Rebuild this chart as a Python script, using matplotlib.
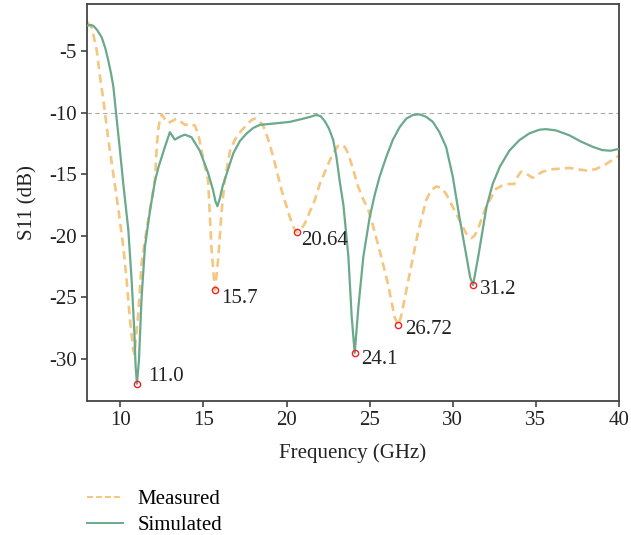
import numpy as np
import matplotlib
matplotlib.use('Agg')
import matplotlib.pyplot as plt

# simulated S11 (GHz, dB)
sim_freq = [8.0, 8.25, 8.4, 8.6, 8.88, 9.1, 9.28, 9.45, 9.58, 9.74, 9.98, 10.18, 10.48,
            10.68, 10.84, 10.92, 11.0, 11.12, 11.28, 11.48, 11.78, 12.08, 12.28, 12.68,
            12.98, 13.28, 13.6, 13.88, 14.28, 14.78, 15.28, 15.58, 15.72, 15.84, 15.98,
            16.15, 16.4, 16.8, 17.2, 17.6, 18.0, 18.4, 19.2, 20.2, 21.0, 21.4, 21.8,
            22.05, 22.3, 22.55, 22.8, 23.0, 23.2, 23.42, 23.72, 23.92, 24.1, 24.32, 24.62,
            25.0, 25.3, 25.6, 26.0, 26.4, 26.8, 27.2, 27.6, 28.0, 28.4, 28.8, 29.2, 29.6,
            30.0, 30.4, 30.8, 31.05, 31.22, 31.53, 32.03, 32.4, 32.83, 33.4, 34.0, 34.6,
            35.2, 35.6, 36.2, 37.0, 37.7, 38.45, 39.0, 39.5, 40.0]
sim_s11 = [-2.95, -2.9, -3.0, -3.3, -3.9, -4.8, -5.8, -6.9, -7.9, -10.0, -13.1, -15.8,
           -19.5, -23.6, -27.7, -30.6, -32.0, -30.1, -25.0, -20.9, -18.0, -15.6, -14.5,
           -12.8, -11.6, -12.2, -11.95, -11.8, -12.0, -13.1, -14.9, -16.3, -17.2, -17.6,
           -17.0, -16.0, -14.95, -13.3, -12.3, -11.7, -11.25, -11.0, -10.9, -10.76, -10.5,
           -10.36, -10.2, -10.3, -10.7, -11.3, -12.2, -13.6, -15.6, -17.5, -21.7, -26.6,
           -29.5, -25.8, -21.7, -18.5, -16.7, -15.2, -13.6, -12.2, -11.2, -10.5, -10.2,
           -10.15, -10.35, -10.76, -11.6, -12.8, -15.2, -18.5, -21.5, -23.4, -24.0, -21.7,
           -17.65, -15.8, -14.4, -13.1, -12.25, -11.7, -11.4, -11.35, -11.45, -11.84,
           -12.35, -12.8, -13.05, -13.1, -12.95]

# measured S11 (GHz, dB)
meas_freq = [8.0, 8.28, 8.58, 8.78, 8.98, 9.28, 9.58, 9.88, 10.18, 10.38, 10.58, 10.78,
             10.85, 11.08, 11.28, 11.58, 11.88, 12.08, 12.2, 12.3, 12.4, 12.5, 12.65, 12.88,
             13.1, 13.38, 13.6, 13.88, 14.28, 14.5, 14.7, 14.88, 15.28, 15.38, 15.48, 15.64,
             15.7, 15.9, 16.08, 16.28, 16.6, 16.9, 17.2, 17.6, 17.9, 18.1, 18.35, 18.6, 18.9,
             19.2, 19.7, 20.2, 20.45, 20.64, 20.85, 21.1, 21.7, 22.0, 22.5, 22.8, 23.1, 23.3,
             23.5, 23.7, 24.0, 24.3, 24.6, 24.9, 25.2, 25.6, 26.1, 26.5, 26.72, 26.9, 27.0,
             27.4, 27.9, 28.4, 28.7, 29.0, 29.3, 29.6, 30.2, 30.8, 31.1, 31.3, 31.5, 32.0,
             32.6, 33.0, 33.4, 33.7, 33.9, 34.1, 34.4, 34.8, 35.4, 36.0, 37.0, 38.0, 38.6,
             39.2, 40.0]
meas_s11 = [-2.65, -3.1, -4.95, -7.1, -9.0, -12.2, -15.0, -17.8, -20.9, -23.6, -26.8,
            -29.3, -29.6, -26.3, -22.2, -19.5, -17.1, -15.5, -12.6, -11.2, -10.4, -10.15,
            -10.5, -10.85, -10.7, -10.5, -10.7, -11.0, -10.9, -11.1, -11.8, -13.1, -15.5,
            -18.2, -20.9, -23.6, -24.4, -21.7, -18.2, -15.5, -13.1, -12.2, -11.6, -11.0,
            -10.6, -10.5, -10.65, -11.1, -12.2, -13.6, -16.3, -18.5, -19.4, -19.7, -19.5,
            -19.0, -17.1, -15.8, -14.2, -13.3, -12.7, -12.6, -12.8, -13.3, -14.6, -16.0,
            -17.0, -17.8, -19.2, -21.2, -23.9, -26.6, -27.25, -26.5, -25.8, -23.1, -19.8,
            -17.1, -16.3, -16.0, -16.1, -16.6, -18.2, -19.8, -20.2, -20.0, -19.5, -17.65,
            -16.2, -15.9, -15.8, -15.8, -15.2, -14.8, -14.95, -15.3, -14.8, -14.6, -14.5,
            -14.7, -14.6, -14.2, -13.5]

# resonance markers
res_freq = [11.0, 15.7, 20.64, 24.1, 26.72, 31.2]
res_s11 = [-32.0, -24.4, -19.7, -29.5, -27.25, -24.0]
res_labels = ['11.0', '15.7', '20.64', '24.1', '26.72', '31.2']
label_offsets = [(8, 5), (4.5, -6), (3, -6), (4.5, -4.5), (5, -3), (5, -3.5)]

plt.rcParams['font.family'] = ['Liberation Serif', 'DejaVu Serif']
plt.rcParams['axes.unicode_minus'] = False
FS = 15

fig = plt.figure(figsize=(6.31, 5.35), dpi=100)
ax = fig.add_axes([0.138, 0.2505, 0.843, 0.742])

ax.axhline(-10, color='#aaaaaa', lw=0.8, ls=(0, (4, 3)), zorder=1)
ax.plot(meas_freq, meas_s11, color='#f4c67f', lw=1.9, ls=(0, (3.2, 2.0)), label='Measured',
        zorder=2, solid_joinstyle='round', dash_joinstyle='round')
ax.plot(sim_freq, sim_s11, color='#6aa98c', lw=1.6, label='Simulated', zorder=3,
        solid_joinstyle='round')
ax.plot(res_freq, res_s11, 'o', ms=4.5, mfc='none', mec='#ee2222', mew=1.0, zorder=4)
for f, s, t, off in zip(res_freq, res_s11, res_labels, label_offsets):
    ax.annotate(t, (f, s), xytext=off, textcoords='offset points', ha='left', va='center',
                fontsize=FS, color='#222222')

ax.set_xlim(8, 40)
ax.set_ylim(-33.4, -1.2)
ax.set_xticks([10, 15, 20, 25, 30, 35, 40])
ax.set_yticks([-5, -10, -15, -20, -25, -30])
ax.tick_params(labelsize=FS, colors='#222222', direction='out', length=4, width=1.2,
               color='#444444')
for sp in ax.spines.values():
    sp.set_color('#444444')
    sp.set_linewidth(1.3)
ax.set_xlabel('Frequency (GHz)', fontsize=FS, color='#222222', labelpad=9)
ax.set_ylabel('S11 (dB)', fontsize=FS, color='#222222', labelpad=8)

leg = fig.legend(loc='upper left', bbox_to_anchor=(0.124, 0.1), frameon=False, fontsize=FS,
                 handlelength=1.75, handletextpad=0.7, labelspacing=0.3, borderaxespad=0)
leg_lines = leg.get_lines()
leg_lines[0].set_linewidth(1.4)
leg_lines[0].set_dashes((3.1, 1.5))
leg_lines[1].set_linewidth(1.4)

fig.savefig('out.png', dpi=100)
